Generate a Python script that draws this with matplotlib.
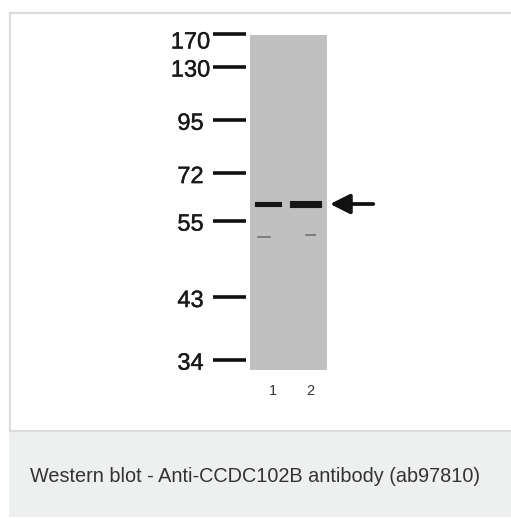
import matplotlib
matplotlib.use("Agg")
import matplotlib.pyplot as plt
import matplotlib.patheffects as pe
from matplotlib.patches import Rectangle
from matplotlib.lines import Line2D

marker_kda = [170, 130, 95, 72, 55, 43, 34]
# relative migration (0 = top of gel, 1 = bottom of gel)
marker_rf = [-0.002, 0.095, 0.254, 0.413, 0.555, 0.783, 0.970]

lane_labels = ["1", "2"]
lane_pos = [1, 2]

# main (target) band per lane
band_pos = [1.00, 1.987]
band_rf = [0.5045, 0.5036]
band_width = [0.684, 0.816]
band_thickness = [0.0110, 0.0185]

# faint lower band per lane
faint_pos = [0.892, 2.114]
faint_rf = [0.603, 0.596]
faint_width = [0.376, 0.28]
faint_thickness = [0.0055, 0.0055]

target_rf = 0.5045
caption = "Western blot - Anti-CCDC102B antibody (ab97810)"

# ---------------- figure ----------------
W, H = 511, 518
fig = plt.figure(figsize=(W / 100, H / 100), dpi=100)
fig.patch.set_facecolor("white")

FONT = ["Liberation Sans", "DejaVu Sans"]


def fx(px):
    return px / W


def fy(py):
    return 1 - py / H


# panel frame and caption band (figure layout)
fig.add_artist(Rectangle((fx(9), fy(517)), fx(511) - fx(9), fy(432) - fy(517),
                         transform=fig.transFigure, facecolor="#eeefef",
                         edgecolor="none", zorder=0))
frame_kw = dict(transform=fig.transFigure, color="#dcdcdc", lw=1.6,
                solid_capstyle="butt", zorder=1)
fig.add_artist(Line2D([fx(10), fx(10)], [fy(12), fy(431)], **frame_kw))
fig.add_artist(Line2D([fx(9), fx(511)], [fy(13), fy(13)], **frame_kw))
fig.add_artist(Line2D([fx(9), fx(511)], [fy(431), fy(431)], **frame_kw))

fig.text(fx(30), fy(481.5), caption, fontsize=14.35, color="#333333",
         family=FONT, ha="left", va="baseline")

# blot axes: x in lane units, y in relative migration
ax = fig.add_axes([0, 0, 1, 1])
ax.set_xlim(1 - 268 / 38, 1 + (511 - 268) / 38)
ax.set_ylim((518 - 35) / 335, -35 / 335)
ax.axis("off")
ax.patch.set_alpha(0)

# gel background
gel_left, gel_right = 0.526, 2.561
ax.add_patch(Rectangle((gel_left, 0), gel_right - gel_left, 1.0,
                       facecolor="#c0c0c0", edgecolor="none", zorder=1))

# bands
ax.bar(band_pos, band_thickness, width=band_width,
       bottom=[r - t / 2 for r, t in zip(band_rf, band_thickness)],
       color="#151515", edgecolor="#151515", linewidth=0.8,
       joinstyle="round", zorder=3)
ax.bar(faint_pos, faint_thickness, width=faint_width,
       bottom=[r - t / 2 for r, t in zip(faint_rf, faint_thickness)],
       color="#7e7e7e", edgecolor="none", zorder=2)

# marker ladder
ax.hlines(marker_rf, -0.447, 0.421, colors="#111111", lw=2.6, zorder=3)
for kda, rf in zip(marker_kda, marker_rf):
    nudge = 0.0134 if kda == 170 else 0.0
    ax.text(-1.039, rf + 0.029 + nudge, str(kda), fontsize=17,
            family=FONT, color="#1a1a1a", ha="center", va="baseline",
            path_effects=[pe.withStroke(linewidth=0.3, foreground="#1a1a1a")])

# lane labels
for lbl, p in zip(lane_labels, lane_pos):
    ax.text(p + 0.124, 1.0746, lbl, fontsize=10.5, family=FONT,
            color="#333333", ha="center", va="baseline")

# arrow pointing to target band
ax.annotate("", xy=(2.632, target_rf), xytext=(3.771, target_rf),
            arrowprops=dict(arrowstyle="-|>,head_length=1.2,head_width=0.6",
                            lw=2.7, color="#111111", shrinkA=0, shrinkB=0))

fig.savefig("out.png", dpi=100)
